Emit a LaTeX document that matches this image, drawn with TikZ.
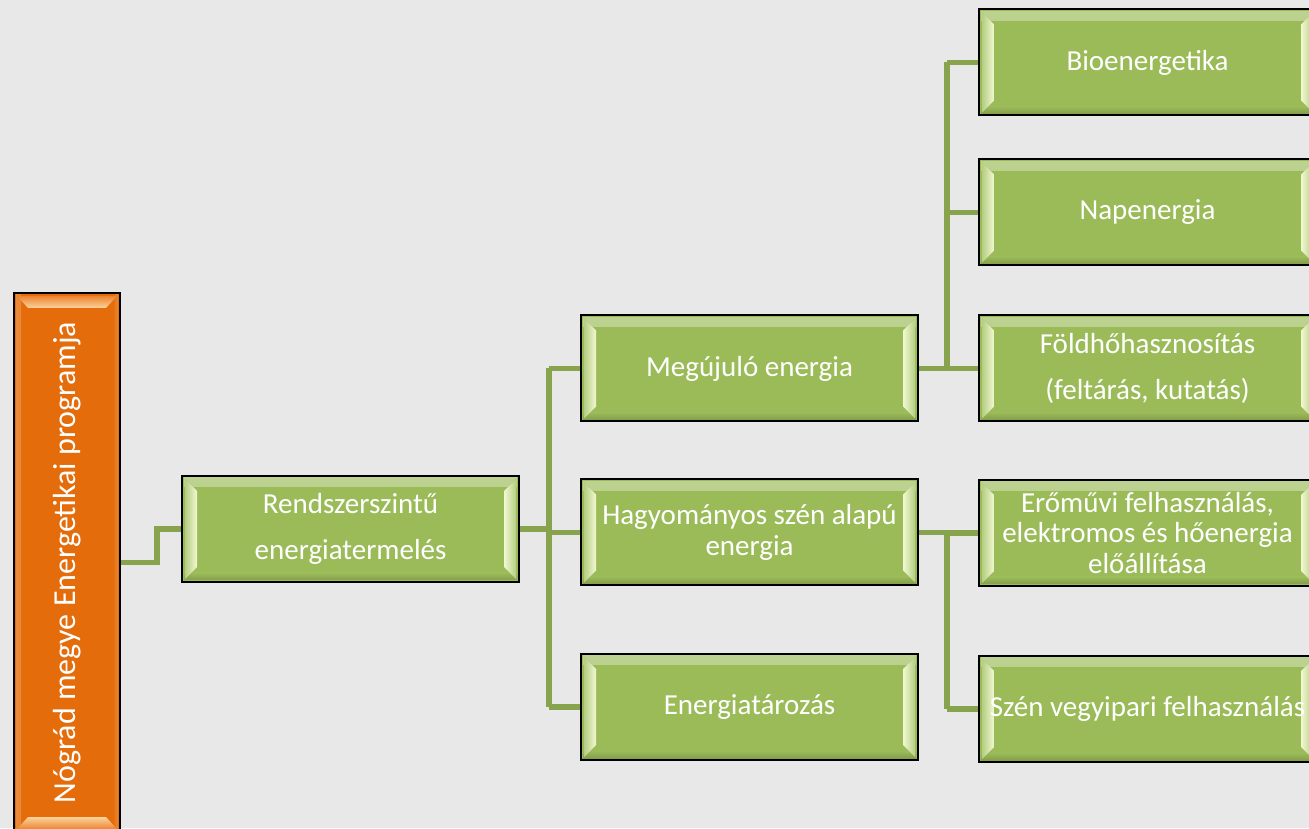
\documentclass[tikz,border=0pt]{standalone}
\usepackage{fontspec}
\setmainfont{Carlito}
\usetikzlibrary{calc}
\definecolor{bg}{HTML}{E8E8E8}
\definecolor{boxgreen}{HTML}{9BBB59}
\definecolor{bevL}{HTML}{F2F8D2}
\definecolor{bevD}{HTML}{B5CE82}
\definecolor{conncol}{HTML}{87A34D}
\definecolor{boxorange}{HTML}{E46C0A}
\definecolor{orL}{HTML}{FCD29C}
\definecolor{orD}{HTML}{EC8530}
\tikzset{
  gbox/.style={draw=black, line width=1.5pt, fill=boxgreen, rectangle,
    minimum width=252.75pt, minimum height=79.5pt, inner sep=0pt,
    text=white, align=center,
    font=\fontsize{21.75pt}{23pt}\selectfont,
    path picture={
      \fill[top color=boxgreen!65!white, bottom color=boxgreen]
        ([shift={(2,-2)}]path picture bounding box.north west) rectangle
        ([shift={(-2,-11)}]path picture bounding box.north east);
      \fill[top color=boxgreen, bottom color=boxgreen!85!black]
        ([shift={(2,9)}]path picture bounding box.south west) rectangle
        ([shift={(-2,2)}]path picture bounding box.south east);
      \fill[left color=bevD, right color=bevL]
        ([shift={(3,-3)}]path picture bounding box.north west) --
        ([shift={(15,-15)}]path picture bounding box.north west) --
        ([shift={(15,15)}]path picture bounding box.south west) --
        ([shift={(3,3)}]path picture bounding box.south west) -- cycle;
      \fill[left color=bevL, right color=bevD]
        ([shift={(-15,-15)}]path picture bounding box.north east) --
        ([shift={(-3,-3)}]path picture bounding box.north east) --
        ([shift={(-3,3)}]path picture bounding box.south east) --
        ([shift={(-15,15)}]path picture bounding box.south east) -- cycle;
    }},
  obox/.style={draw=black, line width=1.5pt, fill=boxorange, rectangle,
    minimum width=79.5pt, minimum height=404.25pt, inner sep=0pt,
    text=white, align=center,
    font=\fontsize{24pt}{26pt}\selectfont,
    path picture={
      \fill[left color=boxorange!80!white, right color=boxorange]
        ([shift={(2,-2)}]path picture bounding box.north west) rectangle
        ([shift={(7,2)}]path picture bounding box.south west);
      \fill[left color=boxorange, right color=boxorange!80!white]
        ([shift={(-7,-2)}]path picture bounding box.north east) rectangle
        ([shift={(-2,2)}]path picture bounding box.south east);
      \fill[top color=orD, bottom color=orL]
        ([shift={(3,-3)}]path picture bounding box.north west) --
        ([shift={(-3,-3)}]path picture bounding box.north east) --
        ([shift={(-14,-15)}]path picture bounding box.north east) --
        ([shift={(14,-15)}]path picture bounding box.north west) -- cycle;
      \fill[top color=orL, bottom color=orD]
        ([shift={(14,15)}]path picture bounding box.south west) --
        ([shift={(-14,15)}]path picture bounding box.south east) --
        ([shift={(-3,3)}]path picture bounding box.south east) --
        ([shift={(3,3)}]path picture bounding box.south west) -- cycle;
    }},
  conn/.style={draw=conncol, line width=4pt, line join=miter}
}
\begin{document}
\begin{tikzpicture}[x=0.75pt, y=0.75pt]
\useasboundingbox (0,0) rectangle (1309,828);
\clip (0,0) rectangle (1309,828);
\fill[bg] (0,0) rectangle (1309,828);

\node[obox] (org) at (67,265.5) {\rotatebox{90}{Nógrád megye Energetikai programja}};
\node[gbox] (rend) at (350.5,299) {Rendszerszintű\\[12pt]energiatermelés};
\node[gbox] (meg) at (749.5,459.5) {Megújuló energia};
\node[gbox] (hag) at (749.5,295.5) {Hagyományos szén alapú\\energia};
\node[gbox] (tar) at (749.5,121) {Energiatározás};
\node[gbox] (bio) at (1147.5,765.5) {Bioenergetika};
\node[gbox] (nap) at (1147.5,615.5) {Napenergia};
\node[gbox] (fold) at (1147.5,459.5) {Földhőhasznosítás\\[12pt](feltárás, kutatás)};
\node[gbox] (ero) at (1147.5,295) {Erőművi felhasználás,\\elektromos és hőenergia\\előállítása};
\node[gbox] (szen) at (1147.5,119) {Szén vegyipari felhasználás};

\coordinate (bus1) at (549,0);
\coordinate (bus2) at (947,0);

\draw[conn] (org.east) -- ++(36,0) |- (rend.west);
\draw[conn] (rend.east) -- (rend.east -| bus1);
\draw[conn] (bus1 |- meg.west) -- (bus1 |- tar.west);
\draw[conn] (bus1 |- meg.west) -- (meg.west);
\draw[conn] (bus1 |- hag.west) -- (hag.west);
\draw[conn] (bus1 |- tar.west) -- (tar.west);

\draw[conn] (meg.east) -- (meg.east -| bus2);
\draw[conn] (bus2 |- bio.west) -- (bus2 |- fold.west);
\draw[conn] (bus2 |- bio.west) -- (bio.west);
\draw[conn] (bus2 |- nap.west) -- (nap.west);
\draw[conn] (bus2 |- fold.west) -- (fold.west);

\draw[conn] (hag.east) -- (hag.east -| bus2);
\draw[conn] (bus2 |- hag.east) -- (bus2 |- szen.west);
\draw[conn] (bus2 |- ero.west) -- (ero.west);
\draw[conn] (bus2 |- szen.west) -- (szen.west);
\end{tikzpicture}
\end{document}
